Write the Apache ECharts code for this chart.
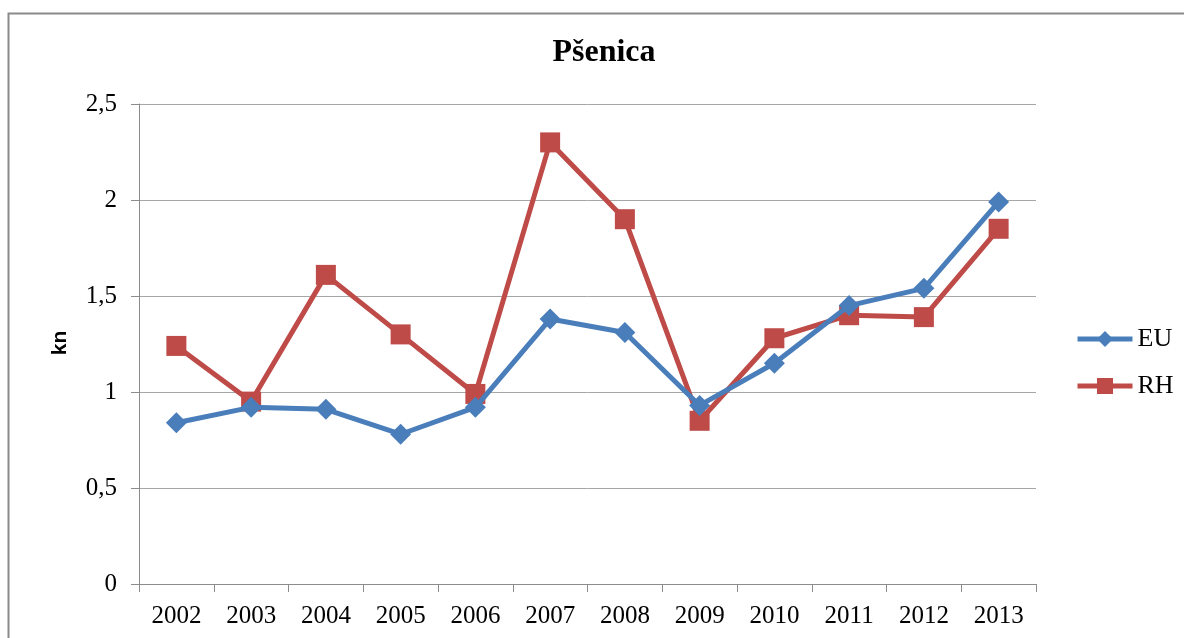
<!DOCTYPE html>
<html>
<head>
<meta charset="utf-8">
<script src="https://cdn.jsdelivr.net/npm/echarts@6/dist/echarts.min.js"></script>
<style>
html,body{margin:0;padding:0;background:#fff;}
#chart{width:1184px;height:638px;}
</style>
</head>
<body>
<div id="chart"></div>
<script>
var categories = ['2002','2003','2004','2005','2006','2007','2008','2009','2010','2011','2012','2013'];
var euValues = [0.84, 0.92, 0.91, 0.78, 0.92, 1.38, 1.31, 0.93, 1.15, 1.45, 1.54, 1.99];
var rhValues = [1.24, 0.95, 1.61, 1.30, 0.99, 2.30, 1.90, 0.85, 1.28, 1.40, 1.39, 1.85];
var yTicks = [0, 0.5, 1, 1.5, 2, 2.5];
var titleText = 'Pšenica';
var yName = 'kn';

var chart = echarts.init(document.getElementById('chart'), null, {renderer: 'canvas'});
var serif = '"Liberation Serif", "Times New Roman", serif';
var sans = '"Liberation Sans", Arial, sans-serif';
var blue = '#4a7ebb';
var red = '#be4b48';

chart.setOption({
  animation: false,
  backgroundColor: '#ffffff',
  graphic: [
    {type: 'rect', shape: {x: 8.5, y: 13.5, width: 1300, height: 800},
     style: {fill: 'none', stroke: '#8a8a8a', lineWidth: 2}, z: 0},
    {type: 'text', x: 604, y: 53, style: {text: titleText, font: 'bold 32px ' + serif,
     fill: '#000', align: 'center', verticalAlign: 'middle'}},
    {type: 'text', x: 60, y: 343, rotation: Math.PI / 2, style: {text: yName,
     font: 'bold 21px ' + sans, fill: '#000', align: 'center', verticalAlign: 'middle'}}
  ],
  grid: {left: 139, right: 148, top: 104, bottom: 54, containLabel: false},
  legend: {
    orient: 'vertical', left: 1075, top: 326, padding: 0,
    itemWidth: 55, itemHeight: 20, itemGap: 21,
    textStyle: {fontFamily: serif, fontSize: 26, color: '#000', lineHeight: 24},
    data: [
      {name: 'EU', lineStyle: {width: 5, color: blue}},
      {name: 'RH', lineStyle: {width: 5, color: red}}
    ]
  },
  xAxis: {
    type: 'category', data: categories, boundaryGap: true,
    axisLine: {show: true, lineStyle: {color: '#8c8c8c', width: 1}},
    axisTick: {show: true, length: 8, lineStyle: {color: '#8c8c8c'}},
    axisLabel: {color: '#000', fontFamily: serif, fontSize: 25, margin: 20, interval: 0},
    splitLine: {show: false}
  },
  yAxis: {
    type: 'value', min: yTicks[0], max: yTicks[yTicks.length - 1], interval: 0.5,
    axisLine: {show: true, lineStyle: {color: '#8c8c8c', width: 1}},
    axisTick: {show: true, length: 8, lineStyle: {color: '#8c8c8c'}},
    axisLabel: {color: '#000', fontFamily: serif, fontSize: 25, margin: 22,
      formatter: function (v) { return String(v).replace('.', ','); }},
    splitLine: {show: true, lineStyle: {color: '#a6a6a6', width: 1}}
  },
  series: [
    {name: 'EU', type: 'line', data: euValues, symbol: 'diamond', symbolSize: 21,
     lineStyle: {color: blue, width: 5}, itemStyle: {color: blue}, z: 3},
    {name: 'RH', type: 'line', data: rhValues, symbol: 'rect', symbolSize: 20,
     lineStyle: {color: red, width: 5}, itemStyle: {color: red}, z: 2}
  ]
});
</script>
</body>
</html>
